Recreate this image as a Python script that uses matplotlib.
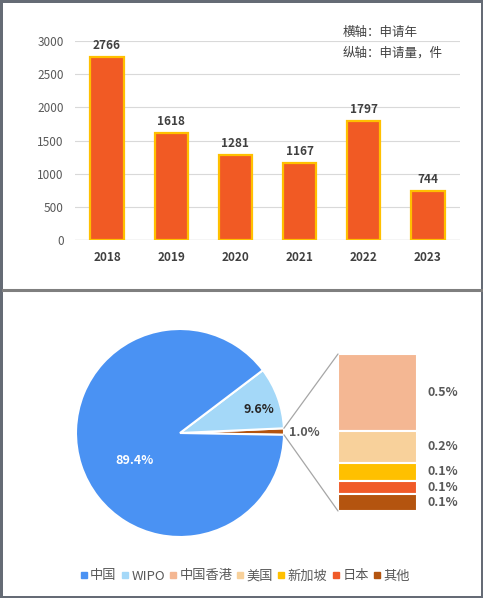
import matplotlib.pyplot as plt
from matplotlib.patches import Rectangle, ConnectionPatch
from matplotlib.lines import Line2D
import numpy as np

plt.rcParams['font.family'] = ['Noto Sans CJK SC', 'DejaVu Sans']

years = ['2018', '2019', '2020', '2021', '2022', '2023']
counts = [2766, 1618, 1281, 1167, 1797, 744]

regions = ['中国', 'WIPO', '中国香港', '美国', '新加坡', '日本', '其他']
region_counts = [8379, 900, 46, 19, 11, 8, 10]
region_colors = ['#4A92F3', '#A4D8F8', '#F4B793', '#F8D19B', '#FFC000', '#F05A28', '#B4540F']

W, H = 483, 598
fig = plt.figure(figsize=(W / 100, H / 100), dpi=100)
grey = '#595959'


def fx(px):
    return px / W


def fy(py):
    return 1 - py / H


# ---- top: yearly bars
ax = fig.add_axes([fx(75), fy(240), fx(460) - fx(75), fy(41) - fy(240)])
x = np.arange(len(years))
ax.bar(x, counts, width=0.52, color='#F15A24', edgecolor='#FFC000', linewidth=1.6, zorder=3)
for xi, c in zip(x, counts):
    ax.text(xi, c + 70, str(c), ha='center', va='bottom', fontsize=8.5,
            fontweight='bold', color='#404040')
ax.set_xlim(-0.5, len(years) - 0.5)
ax.set_ylim(0, 3000)
ax.set_yticks(range(0, 3001, 500))
ax.set_xticks(x)
ax.set_xticklabels(years, fontweight='bold')
ax.yaxis.grid(True, color='#D9D9D9', linewidth=0.8, zorder=0)
for s in ax.spines.values():
    s.set_visible(False)
ax.axhline(0, color='#D9D9D9', linewidth=1, zorder=2)
ax.tick_params(length=0, labelsize=8.5, labelcolor=grey)
ax.tick_params(axis='y', pad=8)
ax.tick_params(axis='x', pad=8, labelcolor='#404040')

fig.text(fx(343), fy(32), '横轴：申请年', fontsize=9, color='#404040', va='center')
fig.text(fx(343), fy(53), '纵轴：申请量，件', fontsize=9, color='#404040', va='center')

# ---- bottom: pie of bar
total = sum(region_counts)
main_vals = region_counts[:2] + [sum(region_counts[2:])]
main_cols = region_colors[:2] + [region_colors[-1]]

pax = fig.add_axes([fx(76), fy(537), fx(284) - fx(76), fy(329) - fy(537)])
other_ang = 360 * main_vals[2] / total
wedges, _ = pax.pie(main_vals[::-1], colors=main_cols[::-1], startangle=-other_ang / 2 + 0.8,
                    counterclock=True,
                    wedgeprops=dict(edgecolor='white', linewidth=1.5))
pax.set_xlim(-1, 1)
pax.set_ylim(-1, 1)
pax.set_aspect('equal')

pcts = [100 * v / total for v in main_vals]
pax.text(-0.44, -0.26, f'{pcts[0]:.1f}%', color='white', fontsize=9, fontweight='bold',
         ha='center', va='center')
pax.text(0.76, 0.23, f'{pcts[1]:.1f}%', color='#262626', fontsize=9, fontweight='bold',
         ha='center', va='center')
pax.text(1.05, 0.0, f'{pcts[2]:.1f}%', color=grey, fontsize=9, fontweight='bold',
         ha='left', va='center')

bax = fig.add_axes([fx(338), fy(511), fx(417) - fx(338), fy(354) - fy(511)])
sub_vals = region_counts[2:]
sub_cols = region_colors[2:]
bottom = 0
for v, c in zip(sub_vals, sub_cols):
    bax.bar(0, v, bottom=bottom, width=1, color=c, edgecolor='white', linewidth=1.5)
    bax.text(0.5 + 0.13, bottom + v / 2, f'{100 * v / total:.1f}%', ha='left', va='center',
             fontsize=9, fontweight='bold', color=grey, transform=bax.transData, clip_on=False)
    bottom += v
bax.set_xlim(-0.5, 0.5)
bax.set_ylim(bottom, 0)
bax.axis('off')

# connectors from the small slice edges to the bar
w = wedges[0]
a1, a2 = np.deg2rad(w.theta1), np.deg2rad(w.theta2)
for ang, yb in ((a2, 0), (a1, bottom)):
    con = ConnectionPatch(xyA=(np.cos(ang), np.sin(ang)), coordsA=pax.transData,
                          xyB=(-0.5, yb), coordsB=bax.transData,
                          color='#A6A6A6', linewidth=0.9)
    fig.add_artist(con)

handles = [Line2D([], [], marker='s', linestyle='none', markersize=5,
                  markerfacecolor=c, markeredgecolor=c) for c in region_colors]
fig.legend(handles, regions, loc='center', bbox_to_anchor=(fx(245), fy(576)), ncol=7,
           frameon=False, fontsize=9.5, handlelength=0.5, handletextpad=0.25,
           columnspacing=0.35, labelcolor=grey)

# frame and divider
fig.add_artist(Line2D([fx(3), fx(483)], [fy(290), fy(290)], color='#7F7F7F', linewidth=2.2))
fig.add_artist(Rectangle((0, 0), 1, 1, transform=fig.transFigure, fill=False,
                         edgecolor='#656B75', linewidth=3.6))

fig.savefig('out.png', dpi=100)
